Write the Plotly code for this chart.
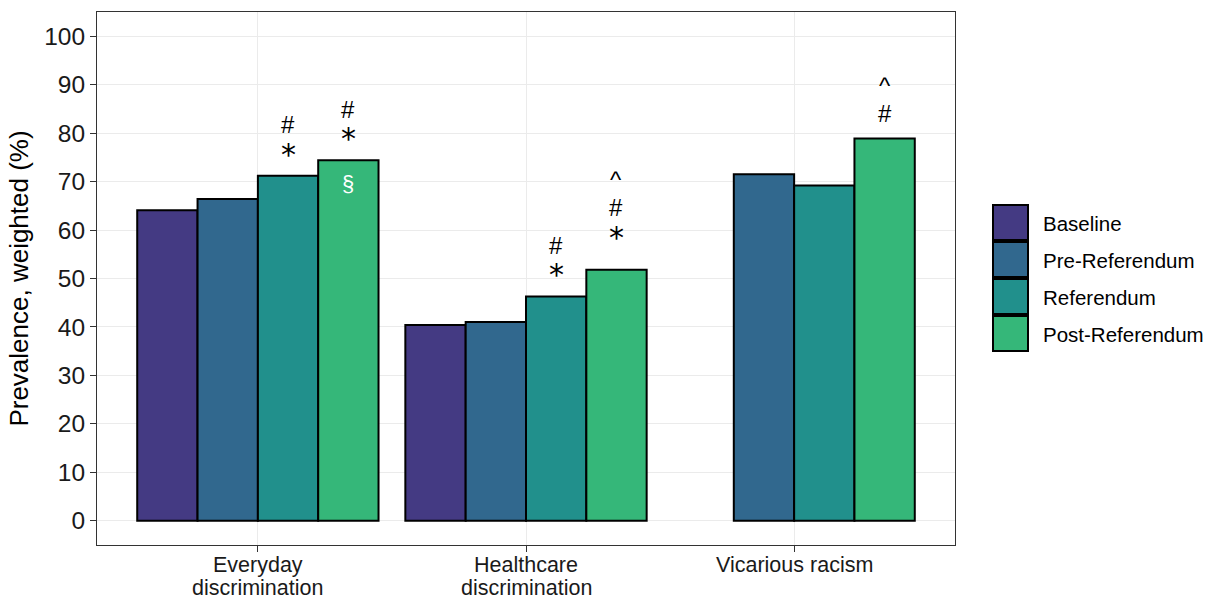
import plotly.graph_objects as go

# Prevalence (%) of each racism measure across survey waves
categories = ["Everyday<br>discrimination", "Healthcare<br>discrimination", "Vicarious racism"]
waves = ["Baseline", "Pre-Referendum", "Referendum", "Post-Referendum"]
baseline = [64.1, 40.4, None]
pre_referendum = [66.4, 41.0, 71.5]
referendum = [71.2, 46.3, 69.2]
post_referendum = [74.4, 51.8, 78.9]

# Significance markers per (category, wave); listed bottom-to-top above the bar
markers_referendum = [["*", "#"], ["*", "#"], []]
markers_post = [["*", "#"], ["*", "#", "^"], ["#", "^"]]
inside_post = ["§", "", ""]

colors = ["#443A83", "#31688E", "#21908C", "#35B779"]
series = [baseline, pre_referendum, referendum, post_referendum]

FONT = "Liberation Sans"
L, R, T, B = 97, 253, 12, 54
W, H = 1208, 599
PW, PH = W - L - R, H - T - B


def py(px):
    """Pixel row -> paper y."""
    return 1 - (px - T) / PH


def pxx(px):
    """Pixel column -> paper x."""
    return (px - L) / PW


fig = go.Figure()
xpos = [1, 2, 3]
for name, vals, col in zip(waves, series, colors):
    fig.add_trace(go.Bar(
        x=xpos, y=vals, name=name, marker=dict(color=col, line=dict(color="black", width=2)),
        showlegend=False,
    ))

group_width = 0.9
bar_w = group_width / len(waves)


def bar_x(cat_i, wave_i):
    return xpos[cat_i] + (wave_i - (len(waves) - 1) / 2) * bar_w


annotations = []
ann_font = dict(family=FONT, size=24, color="black")
star_font = dict(family="DejaVu Sans", size=30, color="black")


def add_stack(cat_i, wave_i, marks, base):
    for k, m in enumerate(marks):
        off = base + 26 * k
        if m == "*":
            # compact box hugging the raised asterisk glyph
            annotations.append(dict(x=bar_x(cat_i, wave_i), y=series[wave_i][cat_i], text=m,
                                    showarrow=False, yanchor="middle", yshift=off + 4,
                                    height=20, valign="top", font=star_font))
        else:
            annotations.append(dict(x=bar_x(cat_i, wave_i), y=series[wave_i][cat_i], text=m,
                                    showarrow=False, yanchor="middle",
                                    yshift=off + (2 if m == "^" else 0), font=ann_font))


for ci in range(3):
    add_stack(ci, 2, markers_referendum[ci], 25)
    add_stack(ci, 3, markers_post[ci], 36 if len(markers_post[ci]) == 3 else 25)
    if inside_post[ci]:
        annotations.append(dict(x=bar_x(ci, 3), y=post_referendum[ci], text=inside_post[ci],
                                showarrow=False, yanchor="middle", yshift=-23,
                                font=dict(family=FONT, size=22, color="white")))

# Category labels under the axis, one annotation per line for tight spacing
for xc, label in zip(xpos, categories):
    for k, line in enumerate(label.split("<br>")):
        annotations.append(dict(x=xc, xref="x", yref="paper", y=py(565 + 23 * k),
                                yanchor="middle", text=line, showarrow=False,
                                font=dict(family=FONT, size=21.5, color="#1A1A1A")))

# Legend drawn as keys with labels to the right of the panel
shapes = []
key_x0, key_x1 = 993, 1028
key_tops = [205, 242, 279, 316]
for name, col, top in zip(waves, colors, key_tops):
    shapes.append(dict(type="rect", xref="paper", yref="paper",
                       x0=pxx(key_x0), x1=pxx(key_x1),
                       y0=py(top + 35), y1=py(top),
                       fillcolor=col, line=dict(color="black", width=2)))
    annotations.append(dict(xref="paper", yref="paper", x=pxx(1041), y=py(top + 18),
                            xanchor="left", yanchor="middle", text=name, showarrow=False,
                            font=dict(family=FONT, size=20.5, color="black")))

fig.update_layout(
    width=W, height=H,
    margin=dict(l=L, r=R, t=T, b=B, autoexpand=False),
    barmode="group", bargap=1 - group_width, bargroupgap=0,
    plot_bgcolor="white", paper_bgcolor="white",
    font=dict(family=FONT, color="black"),
    annotations=annotations, shapes=shapes,
    xaxis=dict(range=[0.4, 3.6], tickvals=xpos, showticklabels=False, automargin=False,
               showgrid=True, gridcolor="#EBEBEB", gridwidth=1,
               ticks="outside", ticklen=6, tickcolor="#333333",
               showline=True, linecolor="#333333", linewidth=1, mirror=True, zeroline=False),
    yaxis=dict(range=[-5, 105], tickvals=list(range(0, 101, 10)), automargin=False,
               showgrid=True, gridcolor="#EBEBEB", gridwidth=1,
               ticks="outside", ticklen=6, tickcolor="#333333",
               tickfont=dict(family=FONT, size=24.5, color="#1A1A1A"),
               title=dict(text="Prevalence, weighted (%)", font=dict(family=FONT, size=26), standoff=8),
               showline=True, linecolor="#333333", linewidth=1, mirror=True, zeroline=False),
)

fig.write_html("out.html")
